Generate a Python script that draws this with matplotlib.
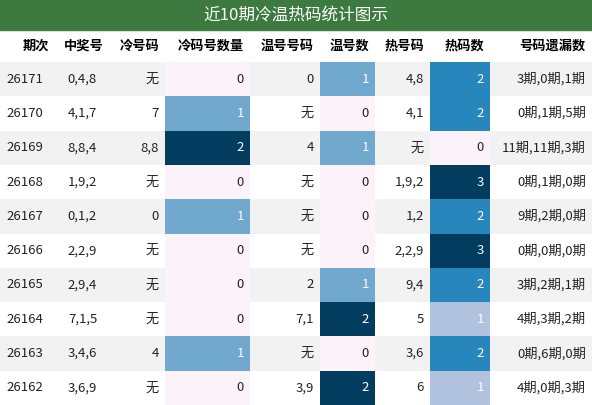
import matplotlib
matplotlib.use("Agg")
import matplotlib.pyplot as plt
from matplotlib.patches import Rectangle
from matplotlib import cm

plt.rcParams['font.family'] = ['Noto Sans CJK SC', 'DejaVu Sans']

title = "近10期冷温热码统计图示"
headers = ["期次", "中奖号", "冷号码", "冷码号数量", "温号号码", "温号数", "热号码", "热码数", "号码遗漏数"]
periods = ["26171", "26170", "26169", "26168", "26167", "26166", "26165", "26164", "26163", "26162"]
winning = ["0,4,8", "4,1,7", "8,8,4", "1,9,2", "0,1,2", "2,2,9", "2,9,4", "7,1,5", "3,4,6", "3,6,9"]
cold_nums = ["无", "7", "8,8", "无", "0", "无", "无", "无", "4", "无"]
cold_cnt = [0, 1, 2, 0, 1, 0, 0, 0, 1, 0]
warm_nums = ["0", "无", "4", "无", "无", "无", "2", "7,1", "无", "3,9"]
warm_cnt = [1, 0, 1, 0, 0, 0, 1, 2, 0, 2]
hot_nums = ["4,8", "4,1", "无", "1,9,2", "1,2", "2,2,9", "9,4", "5", "3,6", "6"]
hot_cnt = [2, 2, 0, 3, 2, 3, 2, 1, 2, 1]
missing = ["3期,0期,1期", "0期,1期,5期", "11期,11期,3期", "0期,1期,0期", "9期,2期,0期",
           "0期,0期,0期", "3期,2期,1期", "4期,3期,2期", "0期,6期,0期", "4期,0期,3期"]

W, H = 592, 405
fig = plt.figure(figsize=(W/100, H/100), dpi=100)
ax = fig.add_axes([0, 0, 1, 1])
ax.set_xlim(0, W); ax.set_ylim(H, 0); ax.axis('off')

edges = [0, 55, 110, 165, 250, 320, 375, 430, 490, 592]
title_h, head_h = 30, 32
row_h = (H - title_h - head_h) / len(periods)

ax.add_patch(Rectangle((0, 0), W, title_h, color="#3d7a40"))
ax.text(W/2, title_h/2, title, color="white", ha="center", va="center", fontsize=12)

for i, h in enumerate(headers):
    ax.text(edges[i+1]-6, title_h+head_h/2, h, ha="right", va="center", fontsize=9.5, fontweight="bold")

cmap = cm.get_cmap("PuBu")
cols = [periods, winning, cold_nums, cold_cnt, warm_nums, warm_cnt, hot_nums, hot_cnt, missing]
count_cols = {3: cold_cnt, 5: warm_cnt, 7: hot_cnt}
for r in range(len(periods)):
    y0 = title_h + head_h + r*row_h
    bg = "#f2f2f2" if r % 2 == 0 else "white"
    ax.add_patch(Rectangle((0, y0), W, row_h, color=bg, lw=0))
    for c, col in enumerate(cols):
        x0, x1 = edges[c], edges[c+1]
        color = "#222222"
        if c in count_cols:
            vals = count_cols[c]
            f = vals[r] / max(vals)
            ax.add_patch(Rectangle((x0, y0), x1-x0, row_h, color=cmap(f*0.95+0.03), lw=0))
            if f > 0:
                color = "white"
        txt = str(col[r])
        if c == 0:
            ax.text(x0+6, y0+row_h/2, txt, ha="left", va="center", fontsize=9.5, color=color)
        elif c == 1:
            ax.text((x0+x1)/2, y0+row_h/2, txt, ha="center", va="center", fontsize=9.5, color=color)
        else:
            ax.text(x1-6, y0+row_h/2, txt, ha="right", va="center", fontsize=9.5, color=color)

fig.savefig("out.png", dpi=100)
